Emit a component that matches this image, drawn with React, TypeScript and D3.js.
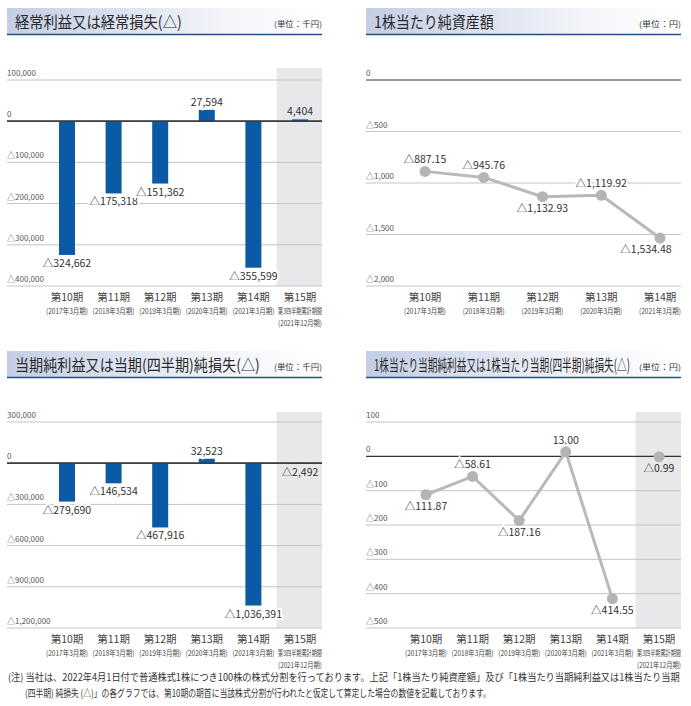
import { useEffect, useRef } from 'react';
import * as d3 from 'd3';

// categories
const periods = ['第10期', '第11期', '第12期', '第13期', '第14期', '第15期'];
const fiscalYears = ['(2017年3月期)', '(2018年3月期)', '(2019年3月期)', '(2020年3月期)', '(2021年3月期)', '第3四半期累計期間'];
const lastPeriodNote = '(2021年12月期)';

// 経常利益又は経常損失 (千円)
const ordinaryIncome = [-324662, -175318, -151362, 27594, -355599, 4404];
const ordinaryTicks = [100000, 0, -100000, -200000, -300000, -400000];

// 1株当たり純資産額 (円)
const bookValuePerShare = [-887.15, -945.76, -1132.93, -1119.92, -1534.48];
const bookValueTicks = [0, -500, -1000, -1500, -2000];

// 当期純利益又は当期(四半期)純損失 (千円)
const netIncome = [-279690, -146534, -467916, 32523, -1036391, -2492];
const netIncomeTicks = [300000, 0, -300000, -600000, -900000, -1200000];

// 1株当たり当期純利益又は純損失 (円)
const epsValues = [-111.87, -58.61, -187.16, 13.0, -414.55, -0.99];
const epsTicks = [100, 0, -100, -200, -300, -400, -500];

const titles = [
  '経常利益又は経常損失(△)',
  '1株当たり純資産額',
  '当期純利益又は当期(四半期)純損失(△)',
  '1株当たり当期純利益又は1株当たり当期(四半期)純損失(△)'
];
const unitThousand = '(単位：千円)';
const unitYen = '(単位：円)';

const footnote1 = '(注) 当社は、2022年4月1日付で普通株式1株につき100株の株式分割を行っております。上記「1株当たり純資産額」及び「1株当たり当期純利益又は1株当たり当期';
const footnote2 = '(四半期) 純損失 (△)」の各グラフでは、第10期の期首に当該株式分割が行われたと仮定して算定した場合の数値を記載しております。';

const FONT = '"Noto Sans CJK JP", "Noto Sans", sans-serif';
const BLUE = '#0b5aa6';
const GREY_LINE = '#b8b8bd';
const BAND = '#e8e8ea';

function fmt(v: number, decimals = 0) {
  const f = d3.format(decimals ? `,.${decimals}f` : ',');
  if (v === 0) return '0';
  return v < 0 ? '△' + f(-v) : f(v);
}

// squeeze a text horizontally to a given width, around its x anchor
function fit(t: any, width: number) {
  const node = t.node() as SVGTextElement
  const w = node.getComputedTextLength()
  if (!w) return t
  const s = width / w
  const x = +t.attr('x')
  t.attr('transform', `translate(${x},0) scale(${s},1) translate(${-x},0)`)
  return t
}

type Panel = {
  left: number
  right: number
  titleTop: number
  titleLen: number
  title: string
  unit: string
  unitLen: number
  x0: number
  x1: number
  top: number
  bottom: number
  bandTop: number
  labelY: number
}

function drawTitle(svg: any, p: Panel, id: string) {
  const grad = svg.append('defs').append('linearGradient').attr('id', id)
  grad.append('stop').attr('offset', '0%').attr('stop-color', '#c3cde4')
  grad.append('stop').attr('offset', '70%').attr('stop-color', '#f3f5fa')
  grad.append('stop').attr('offset', '100%').attr('stop-color', '#ffffff')
  svg.append('rect')
    .attr('x', p.left).attr('y', p.titleTop)
    .attr('width', p.right - p.left).attr('height', 26)
    .attr('fill', `url(#${id})`)
  svg.append('line')
    .attr('x1', p.left).attr('x2', p.right)
    .attr('y1', p.titleTop + 26.5).attr('y2', p.titleTop + 26.5)
    .attr('stroke', '#1d5283').attr('stroke-width', 1.5)
  fit(svg.append('text')
    .attr('x', p.left + 8).attr('y', p.titleTop + 20)
    .attr('font-size', 16).attr('font-weight', 400).attr('fill', '#2a2a2a')
    .text(p.title), p.titleLen)
  fit(svg.append('text')
    .attr('x', p.right).attr('y', p.titleTop + 19)
    .attr('text-anchor', 'end')
    .attr('font-size', 8).attr('fill', '#333')
    .text(p.unit), p.unitLen)
}

function drawFrame(svg: any, p: Panel, ticks: number[], n: number, withBand: boolean) {
  const x = d3.scalePoint<string>().domain(periods.slice(0, n)).range([p.x0, p.x1])
  const y = d3.scaleLinear()
    .domain([ticks[ticks.length - 1], ticks[0]])
    .range([p.bottom, p.top])

  if (withBand) {
    const step = x.step()
    const cx = x(periods[n - 1]) as number
    svg.append('rect')
      .attr('x', cx - step / 2).attr('y', p.bandTop)
      .attr('width', p.right - (cx - step / 2)).attr('height', p.bottom - p.bandTop)
      .attr('fill', BAND)
  }

  const g = svg.append('g')
  g.selectAll('line.grid').data(ticks).join('line')
    .attr('class', 'grid')
    .attr('x1', p.left).attr('x2', p.right)
    .attr('y1', (d: number) => y(d)).attr('y2', (d: number) => y(d))
    .attr('stroke', (d: number) => d === 0 ? '#333' : '#c4c4c4')
    .attr('stroke-width', (d: number) => d === 0 ? 1.2 : 1)
  g.selectAll('text.tick').data(ticks).join('text')
    .attr('class', 'tick')
    .attr('x', p.left).attr('y', (d: number) => y(d) - 4)
    .attr('font-size', 8).attr('fill', '#555')
    .text((d: number) => fmt(d))

  const xl = svg.append('g')
  periods.slice(0, n).forEach((c, i) => {
    const cx = x(c) as number
    xl.append('text').attr('x', cx).attr('y', p.labelY)
      .attr('text-anchor', 'middle').attr('font-size', 10.5).attr('fill', '#444')
      .text(c)
    fit(xl.append('text').attr('x', cx).attr('y', p.labelY + 13)
      .attr('text-anchor', 'middle').attr('font-size', 7.5).attr('fill', '#444')
      .text(fiscalYears[i]), i === 5 ? 44 : 42)
    if (i === 5) {
      fit(xl.append('text').attr('x', cx).attr('y', p.labelY + 25)
        .attr('text-anchor', 'middle').attr('font-size', 7.5).attr('fill', '#444')
        .text(lastPeriodNote), 44)
    }
  })
  return { x, y }
}

function valueLabel(svg: any, x: number, y: number, text: string, halo: boolean) {
  const t = svg.append('text')
    .attr('x', x).attr('y', y)
    .attr('text-anchor', 'middle').attr('font-size', 10.5).attr('fill', '#333')
    .text(text)
  if (halo) t.attr('stroke', '#fff').attr('stroke-width', 4).attr('paint-order', 'stroke')
}

function drawBars(svg: any, p: Panel, values: number[], ticks: number[]) {
  const { x, y } = drawFrame(svg, p, ticks, values.length, true)
  values.forEach((v, i) => {
    const cx = x(periods[i]) as number
    svg.append('rect')
      .attr('x', cx - 8).attr('width', 16)
      .attr('y', Math.min(y(v), y(0))).attr('height', Math.abs(y(v) - y(0)))
      .attr('fill', BLUE)
    valueLabel(svg, cx, v < 0 ? y(v) + 12 : y(v) - 4, fmt(v), i < values.length - 1)
  })
  svg.append('line')
    .attr('x1', p.left).attr('x2', p.right).attr('y1', y(0)).attr('y2', y(0))
    .attr('stroke', '#333').attr('stroke-width', 1.2)
}

function drawLine(svg: any, p: Panel, values: number[], ticks: number[], place: string[], dxs: number[], connected: number, withBand: boolean) {
  const { x, y } = drawFrame(svg, p, ticks, values.length, withBand)
  const line = d3.line<number>()
    .x((_, i) => x(periods[i]) as number)
    .y(d => y(d))
  svg.append('path')
    .datum(values.slice(0, connected))
    .attr('d', line)
    .attr('fill', 'none').attr('stroke', GREY_LINE).attr('stroke-width', 3)
  values.forEach((v, i) => {
    const cx = x(periods[i]) as number
    svg.append('circle').attr('cx', cx).attr('cy', y(v)).attr('r', 5.5).attr('fill', '#b3b3b8')
    const ly = place[i] === 'above' ? y(v) - 8 : y(v) + 15
    valueLabel(svg, cx + dxs[i], ly, fmt(v, 2), !(withBand && i === values.length - 1))
  })
}

function App() {
  const ref = useRef<SVGSVGElement>(null)

  useEffect(() => {
    document.body.style.margin = '0'
    const svg = d3.select(ref.current)
    svg.selectAll('*').remove()

    const p1: Panel = { left: 7, right: 322, titleTop: 8, titleLen: 167, title: titles[0], unit: unitThousand, unitLen: 48, x0: 67, x1: 300, top: 80, bottom: 286, bandTop: 68, labelY: 301 }
    const p2: Panel = { left: 366, right: 681, titleTop: 8, titleLen: 120, title: titles[1], unit: unitYen, unitLen: 42, x0: 425, x1: 660, top: 80, bottom: 286, bandTop: 68, labelY: 301 }
    const p3: Panel = { left: 7, right: 322, titleTop: 351, titleLen: 245, title: titles[2], unit: unitThousand, unitLen: 48, x0: 67, x1: 300, top: 422, bottom: 628, bandTop: 412, labelY: 643 }
    const p4: Panel = { left: 366, right: 681, titleTop: 351, titleLen: 256, title: titles[3], unit: unitYen, unitLen: 42, x0: 426, x1: 659, top: 422, bottom: 628, bandTop: 412, labelY: 643 }

    ;[p1, p2, p3, p4].forEach((p, i) => drawTitle(svg, p, `tg${i}`))

    drawBars(svg, p1, ordinaryIncome, ordinaryTicks)
    drawLine(svg, p2, bookValuePerShare, bookValueTicks,
      ['above', 'above', 'below', 'above', 'below'], [0, 0, 0, 0, -14], 5, false)
    drawBars(svg, p3, netIncome, netIncomeTicks)
    drawLine(svg, p4, epsValues, epsTicks,
      ['below', 'above', 'below', 'above', 'below', 'below'], [0, 0, 0, 0, 0, 0], 5, true)

    fit(svg.append('text').attr('x', 8).attr('y', 681)
      .attr('font-size', 10).attr('fill', '#333')
      .text(footnote1), 672)
    fit(svg.append('text').attr('x', 25).attr('y', 697)
      .attr('font-size', 10).attr('fill', '#333')
      .text(footnote2), 466)
  }, [])

  return (
    <svg ref={ref} width={691} height={706} style={{ display: 'block', fontFamily: FONT, background: '#fff' }} />
  )
}

export default App
